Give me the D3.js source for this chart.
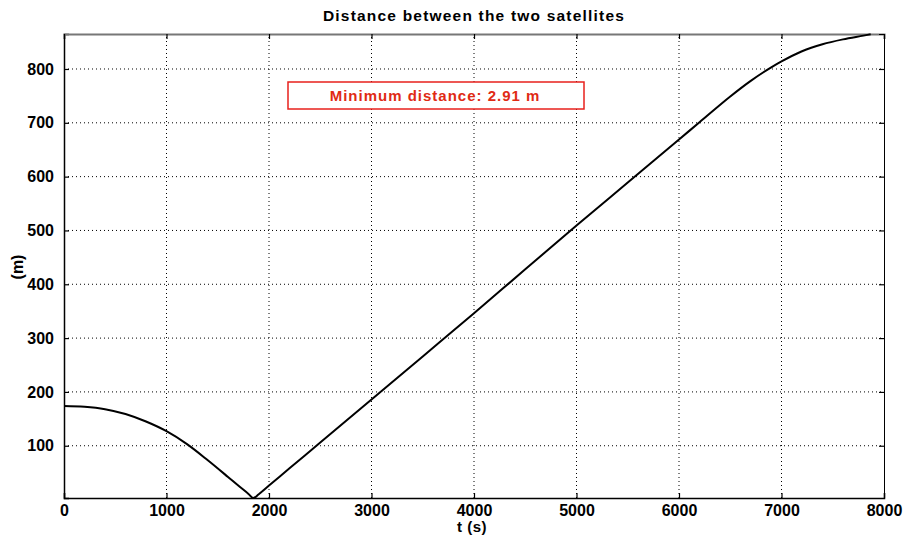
<!DOCTYPE html>
<html><head><meta charset="utf-8">
<script src="https://cdn.jsdelivr.net/npm/d3@7"></script>
<style>
body{margin:0;background:#fff;}
text{font-family:"Liberation Sans",Arial,sans-serif;font-weight:bold;}
</style></head>
<body><svg id="c" width="904" height="536"></svg>
<script>
const times = [0,200,400,600,800,1000,1200,1400,1600,1700,1800,1846,1900,2000,2200,2500,3000,3500,4000,4500,5000,5500,6000,6200,6500,6700,6900,7000,7200,7400,7600,7800,7870];
const dist  = [174,172.5,168,159,145,127,103,73.5,42,26,10.5,2.91,10,26,58,106,186,266,346,428,509,589,669,701,749,778,803,814,833,846,855,862,864.5];
const xTicks = [0,1000,2000,3000,4000,5000,6000,7000,8000];
const yTicks = [100,200,300,400,500,600,700,800];
const title = "Distance between the two satellites";
const xLabel = "t (s)";
const yLabel = "(m)";
const note = "Minimum distance: 2.91 m";

const W=904,H=536, m={l:64,r:20,t:34,b:38};
const svg=d3.select("#c");
const x=d3.scaleLinear().domain([0,8000]).range([m.l,W-m.r]);
const y=d3.scaleLinear().domain([2.91,865]).range([H-m.b,m.t]);
const g=svg.append("g");
g.selectAll(".gx").data(xTicks.slice(1,-1)).join("line")
 .attr("x1",d=>x(d)).attr("x2",d=>x(d)).attr("y1",y.range()[0]).attr("y2",y.range()[1])
 .attr("stroke","#000").attr("stroke-width",1).attr("stroke-dasharray","1,3");
g.selectAll(".gy").data(yTicks).join("line")
 .attr("y1",d=>y(d)).attr("y2",d=>y(d)).attr("x1",x.range()[0]).attr("x2",x.range()[1])
 .attr("stroke","#000").attr("stroke-width",1).attr("stroke-dasharray","1,3");
const ax=d3.axisBottom(x).tickValues(xTicks).tickSize(-5).tickPadding(7).tickFormat(d3.format("d"));
const ay=d3.axisLeft(y).tickValues(yTicks).tickSize(-5).tickPadding(10).tickFormat(d3.format("d"));
const gx=svg.append("g").attr("transform",`translate(0,${H-m.b})`).call(ax);
const gy=svg.append("g").attr("transform",`translate(${m.l},0)`).call(ay);
svg.append("g").attr("transform",`translate(0,${m.t})`).call(d3.axisTop(x).tickValues(xTicks).tickSize(-5).tickFormat(""))
 .select(".domain").attr("stroke","#777").attr("stroke-width",2);
svg.append("g").attr("transform",`translate(${W-m.r},0)`).call(d3.axisRight(y).tickValues(yTicks).tickSize(-5).tickFormat(""));
[gx,gy].forEach(a=>{a.selectAll("text").attr("font-size",16).attr("fill","#000").style("font-weight","bold").style("font-family","Liberation Sans, Arial, sans-serif");
 a.select(".domain").attr("stroke-width",1.5);});
svg.selectAll(".tick line").attr("stroke","#000").attr("stroke-width",1.2);
const line=d3.line().x((d,i)=>x(times[i])).y(d=>y(d)).curve(d3.curveMonotoneX);
svg.append("path").datum(dist).attr("d",line).attr("fill","none").attr("stroke","#000").attr("stroke-width",2);
svg.append("text").attr("x",(m.l+W-m.r)/2).attr("y",21).attr("text-anchor","middle").attr("font-size",15.5).attr("letter-spacing",1.2).text(title);
svg.append("text").attr("x",472).attr("y",532).attr("text-anchor","middle").attr("font-size",15).attr("letter-spacing",0.5).text(xLabel);
svg.append("text").attr("transform","translate(23,267) rotate(-90)").attr("text-anchor","middle").attr("font-size",16).text(yLabel);
svg.append("rect").attr("x",288).attr("y",82).attr("width",296).attr("height",27).attr("fill","#fff").attr("stroke","#e8201c").attr("stroke-width",1.5);
svg.append("text").attr("x",435).attr("y",101).attr("text-anchor","middle").attr("font-size",15).attr("letter-spacing",1).attr("fill","#e02a14").text(note);
</script></body></html>
